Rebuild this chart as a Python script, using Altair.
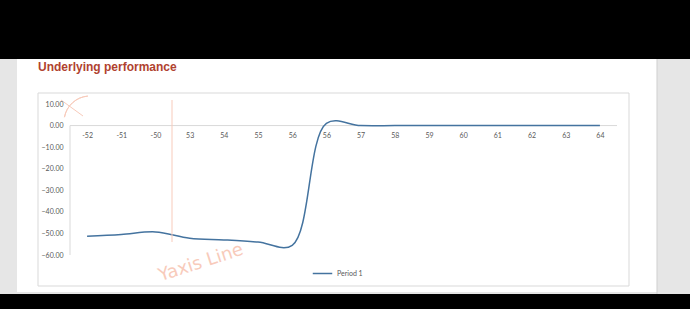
import altair as alt
import pandas as pd

# ---- data ----
x_labels = ["-52", "-51", "-50", "53", "54", "55", "56", "56", "57", "58", "59", "60", "61", "62", "63", "64"]
period1 = [-51.3, -50.5, -49.3, -52.2, -53.0, -54.0, -55.5, 1.0, 0, 0, 0, 0, 0, 0, 0, 0]
y_ticks = [10, 0, -10, -20, -30, -40, -50, -60]
series_name = "Period 1"
title_text = "Underlying performance"
note_text = "Yaxis Line"

df = pd.DataFrame({
    "idx": list(range(len(x_labels))),
    "label": x_labels,
    "value": period1,
    "series": series_name,
})
one = pd.DataFrame({"k": [0]})

W, H = 547, 151
LEFT, TOP = 70, 104
LINE_COLOR = "#44739f"
NOTE_COLOR = "#f8cbbb"
FONT = "Lato"

label_expr = "[" + ",".join("'" + s + "'" for s in x_labels) + "][datum.value]"

xscale = alt.Scale(type="point", padding=0.5)
yscale = alt.Scale(domain=[-60, 10], nice=False, zero=False)
y_axis = alt.Axis(title=None, values=y_ticks, format=".2f", domain=False, tickCount=8,
                  ticks=False, grid=False, labelPadding=7, zindex=2,
                  labelOverlap=False, labelFont=FONT, labelFontSize=7, labelColor="#595959")
x_axis = alt.Axis(title=None, labelExpr=label_expr, orient="bottom", offset=-129,
                  domain=False, ticks=False, labelPadding=5, labelAngle=0, zindex=2,
                  labelOverlap=False, labelFont=FONT, labelFontSize=7, labelColor="#595959")

# page decorations (frame of the screenshot)
gray = alt.Chart(one).mark_rect(color="#e6e6e6").encode(
    x=alt.value(-LEFT), x2=alt.value(690 - LEFT), y=alt.value(59 - TOP), y2=alt.value(294 - TOP))
page = alt.Chart(one).mark_rect(color="#ffffff").encode(
    x=alt.value(17 - LEFT), x2=alt.value(657 - LEFT), y=alt.value(59 - TOP), y2=alt.value(292 - TOP))
page_edge = alt.Chart(one).mark_rule(color="#cfcfcf", strokeWidth=1).encode(
    x=alt.value(657 - LEFT), y=alt.value(59 - TOP), y2=alt.value(294 - TOP))
frame = alt.Chart(one).mark_rect(fill="#ffffff", stroke="#d9d9d9", strokeWidth=1).encode(
    x=alt.value(38 - LEFT), x2=alt.value(629 - LEFT), y=alt.value(93 - TOP), y2=alt.value(286 - TOP))
title = alt.Chart(one).mark_text(
    text=title_text, font="Liberation Sans", fontSize=12, fontWeight="bold",
    color="#b0422f", align="left", baseline="middle").encode(
    x=alt.value(38 - LEFT), y=alt.value(67 - TOP))

line = alt.Chart(df).mark_line(interpolate="catmull-rom", strokeWidth=1.5).encode(
    x=alt.X("idx:O", scale=xscale, axis=x_axis),
    y=alt.Y("value:Q", scale=yscale, axis=y_axis),
    color=alt.Color("series:N", scale=alt.Scale(domain=[series_name], range=[LINE_COLOR]),
                    legend=alt.Legend(title=None, orient="none", legendX=312 - LEFT, legendY=263 - TOP,
                                      symbolType="stroke", symbolSize=380, symbolStrokeWidth=1.5,
                                      labelFontSize=7, labelColor="#595959", labelFont=FONT,
                                      labelOffset=4, zindex=2)),
)

# axis lines (Excel style: zero line and vertical axis)
zero_line = alt.Chart(one).mark_rule(color="#d9d9d9", strokeWidth=1).encode(
    x=alt.value(0), x2=alt.value(W), y=alt.datum(0, scale=yscale, axis=y_axis))
y_line = alt.Chart(one).mark_rule(color="#d9d9d9", strokeWidth=1).encode(
    x=alt.value(0), y=alt.datum(0, scale=yscale, axis=y_axis), y2=alt.datum(-60))

# hand-drawn annotations
note_rule = alt.Chart(one).mark_rule(color=NOTE_COLOR, strokeWidth=1).encode(
    x=alt.value(172 - LEFT), y=alt.value(100 - TOP), y2=alt.value(242 - TOP))
note_text_mark = alt.Chart(one).mark_text(
    text=note_text, font="DejaVu Sans ExtraLight, DejaVu Sans", fontSize=18, color=NOTE_COLOR,
    angle=342, align="center", baseline="middle").encode(
    x=alt.value(201 - LEFT), y=alt.value(263 - TOP))
cross = alt.Chart(one).mark_rule(color=NOTE_COLOR, strokeWidth=1).encode(
    x=alt.value(61 - LEFT), x2=alt.value(83 - LEFT), y=alt.value(100 - TOP), y2=alt.value(116 - TOP))
arc = alt.Chart(one).mark_arc(stroke=NOTE_COLOR, strokeWidth=1, fillOpacity=0,
                              innerRadius=26, outerRadius=26, theta=4.9, theta2=6.2).encode(
    x=alt.value(90 - LEFT), y=alt.value(122 - TOP))

chart = alt.layer(
    gray, page, page_edge, frame, title, zero_line, y_line, line,
    note_rule, note_text_mark, cross, arc
).properties(
    width=W, height=H,
    autosize=alt.AutoSizeParams(type="none"),
    padding={"left": LEFT, "top": TOP, "right": 690 - LEFT - W, "bottom": 309 - TOP - H},
    background="#000000",
).configure_view(strokeWidth=0)

chart.save("out.html", embed_options={"renderer": "svg", "actions": False})
